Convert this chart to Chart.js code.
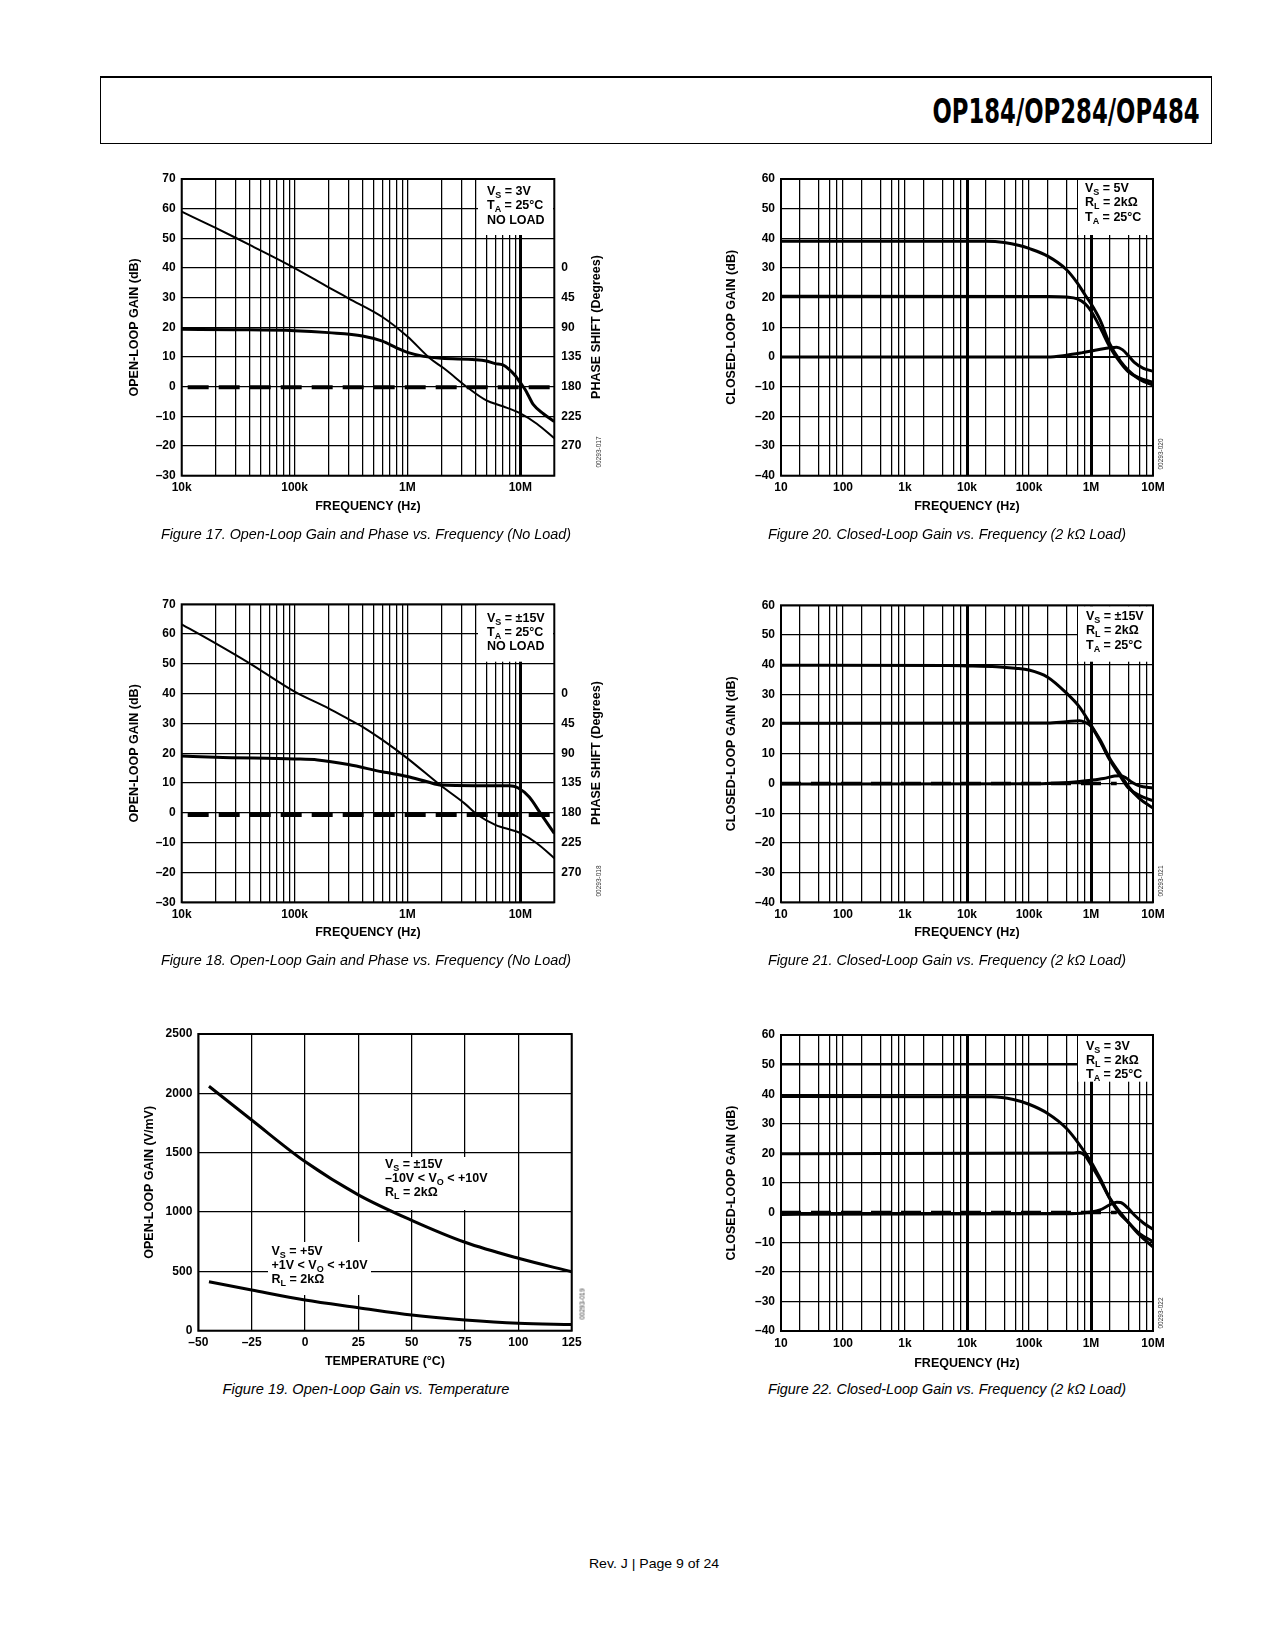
<!DOCTYPE html>
<html><head><meta charset="utf-8">
<script src="https://cdn.jsdelivr.net/npm/chart.js@4.4.1/dist/chart.umd.min.js"></script>
<style>
html,body{margin:0;padding:0;background:#fff;}
body{position:relative;width:1275px;height:1650px;overflow:hidden;font-family:"Liberation Sans",Arial,Helvetica,sans-serif;color:#000;}
canvas{position:absolute;}
.hdr{position:absolute;left:100px;top:76px;width:1112px;height:68px;border:1.6px solid #000;border-top-width:2.2px;box-sizing:border-box;}
.ttl{position:absolute;font:bold 34px "Liberation Sans Narrow","DejaVu Sans Condensed","Liberation Sans",sans-serif;line-height:34px;white-space:nowrap;}
.cap{position:absolute;font:italic 14px "Liberation Sans",Arial,sans-serif;line-height:14px;white-space:nowrap;}
.foot{position:absolute;font:13px "Liberation Sans",Arial,sans-serif;line-height:13px;white-space:nowrap;}
.ann{position:absolute;font:bold 12.5px "Liberation Sans",Arial,sans-serif;line-height:14.4px;white-space:nowrap;}
.ann sub{font-size:9px;vertical-align:-3px;line-height:0;}
.axt{position:absolute;font:bold 12.5px "Liberation Sans",Arial,sans-serif;line-height:12.5px;white-space:nowrap;}
.code{position:absolute;font:6.5px "Liberation Sans",Arial,sans-serif;line-height:7px;color:#333;white-space:nowrap;}
</style>
</head><body>
<div class="hdr"></div>
<script>
// ---------------- DATA ----------------
// Figure 17 (Vs = 3V, no load)
const fig17GainFreq = [1e4, 2e4, 3e4, 4e4, 1e5, 2e5, 3e5, 6e5, 1e6, 1.6e6, 2.1e6, 3.5e6, 5e6, 7e6, 1e7, 1.4e7, 2e7];
const fig17Gain     = [59, 53.5, 50.2, 47.8, 40, 33.5, 29.8, 23.5, 16.9, 9.4, 6.2, -0.6, -4.6, -6.6, -9, -12.5, -17.4];
const fig17PhaseFreq = [1e4, 3e4, 1e5, 2e5, 4e5, 6e5, 8e5, 1e6, 1.4e6, 2e6, 4e6, 5e6, 6e6, 7e6, 8e6, 9e6, 1e7, 1.1e7, 1.2e7, 1.3e7, 1.6e7, 2e7];
const fig17Phase     = [93, 93.5, 95, 98, 103, 111, 121, 128, 134, 137, 139, 141, 145, 147, 154, 163, 174, 184, 196, 207, 221, 233];
const fig17RefFreq = [1.13e4, 1.84e7];
const fig17RefPhase = [181, 181];
// Figure 18 (Vs = ±15V, no load)
const fig18GainFreq = [1e4, 2e4, 4e4, 1e5, 2e5, 3e5, 4e5, 6e5, 1e6, 2e6, 3.2e6, 4.2e6, 6e6, 1e7, 1.4e7, 2e7];
const fig18Gain     = [63.3, 56.9, 50.2, 40.7, 35.1, 31.5, 28.9, 24.5, 18.3, 9, 3.2, -0.7, -4, -6.8, -10.2, -15.2];
const fig18PhaseFreq = [1e4, 2e4, 1e5, 1.6e5, 3e5, 6e5, 1e6, 1.5e6, 2e6, 4e6, 8e6, 9.5e6, 1.2e7, 1.5e7, 2e7];
const fig18Phase     = [94, 96, 98.5, 100, 107, 118, 125, 133, 138, 139, 139, 142, 156, 180, 211];
const fig18RefFreq = [1.13e4, 1.84e7];
const fig18RefPhase = [183, 183];
// Figure 19 (open-loop gain vs temperature)
const fig19Temp  = [-45, -25, 0, 25, 50, 75, 100, 125];
const fig19Vs15  = [2060, 1775, 1425, 1145, 930, 745, 610, 497];
const fig19Vs5   = [413, 343, 258, 194, 132, 90, 62, 53];
// Figure 20 (Vs = 5V)
const fig20Freq100 = [10, 2e4, 4e4, 7e4, 1e5, 2e5, 4e5, 6e5, 8e5, 1e6, 1.4e6, 2e6, 3e6, 4e6, 6e6, 1e7];
const fig20Gain100 = [39, 39, 38.6, 37.6, 36.6, 34, 29.5, 25, 21, 18, 12.5, 4.5, -1.5, -4.5, -7.5, -9.5];
const fig20Freq10  = [10, 2e5, 4e5, 6e5, 8e5, 1e6, 1.4e6, 2e6, 3e6, 4e6, 6e6, 1e7];
const fig20Gain10  = [20.5, 20.4, 20.2, 19.6, 18, 15.5, 10, 3.5, -2, -5, -7, -8.5];
const fig20Freq1   = [10, 2e5, 4e5, 7e5, 1e6, 1.5e6, 2e6, 2.6e6, 3.2e6, 4e6, 5e6, 7e6, 1e7];
const fig20Gain1   = [0, 0, 0.6, 1.4, 2, 2.7, 3.1, 3.3, 2.5, 0.5, -1.8, -3.8, -4.8];
const fig20RefFreq = [10, 3e6];
const fig20RefGain = [0, 0];
// Figure 21 (Vs = ±15V)
const fig21Freq100 = [10, 5e3, 1e4, 3e4, 6e4, 1e5, 2e5, 4e5, 6.5e5, 1e6, 1.4e6, 2e6, 3e6, 4e6, 6e6, 1e7];
const fig21Gain100 = [39.8, 39.7, 39.6, 39.3, 38.8, 38.2, 35.8, 30.5, 25.8, 19.7, 14.7, 8.5, 3, -1, -5, -8.3];
const fig21Freq10  = [10, 2e5, 4e5, 6.5e5, 8e5, 1e6, 1.4e6, 2e6, 3e6, 4e6, 6e6, 1e7];
const fig21Gain10  = [20.3, 20.4, 20.8, 21.1, 20.6, 19.3, 14.2, 8, 2.3, -1.5, -4, -5.8];
const fig21Freq1   = [10, 1e5, 3e5, 6e5, 1e6, 1.6e6, 2.4e6, 3e6, 3.6e6, 4.5e6, 6e6, 1e7];
const fig21Gain1   = [-0.2, -0.1, 0.2, 0.6, 1.1, 1.7, 2.5, 2.6, 2, 0.5, -0.8, -1.5];
const fig21RefFreq = [10, 2.6e6];
const fig21RefGain = [0, 0];
// Figure 22 (Vs = 3V)
const fig22Freq100 = [10, 2.5e4, 5.6e4, 1e5, 2e5, 4e5, 6.5e5, 1e6, 1.4e6, 2e6, 2.9e6, 4e6, 6e6, 1e7];
const fig22Gain100 = [39.2, 39.1, 38.2, 36.6, 33.5, 28.5, 23, 17.2, 11.6, 5, 0.3, -3.3, -7.5, -11.6];
const fig22Freq10  = [10, 5e5, 6.3e5, 8e5, 1e6, 1.4e6, 2e6, 2.9e6, 4e6, 6e6, 1e7];
const fig22Gain10  = [19.9, 20.1, 20.4, 19.3, 16.1, 11, 4.8, -0.3, -3.3, -7, -9.8];
const fig22Freq1   = [10, 5e5, 1e6, 1.4e6, 2e6, 2.6e6, 3e6, 4e6, 5e6, 7e6, 1e7];
const fig22Gain1   = [-0.6, -0.4, 0.2, 0.9, 2.6, 3.5, 3.4, 1.4, -0.8, -3.5, -5.6];
const fig22RefFreq = [10, 2.6e6];
const fig22RefGain = [0, 0];

// ---------------- TICKS ----------------
const olFreqTicks = [1e4,2e4,3e4,4e4,5e4,6e4,7e4,8e4,9e4,1e5,2e5,3e5,4e5,5e5,6e5,7e5,8e5,9e5,1e6,2e6,3e6,4e6,5e6,6e6,7e6,8e6,9e6,1e7];
const olFreqLabels = {10000:'10k',100000:'100k',1000000:'1M',10000000:'10M'};
const clFreqTicks = [10,20,40,60,80,100,200,400,600,800,1e3,2e3,4e3,6e3,8e3,1e4,2e4,4e4,6e4,8e4,1e5,2e5,4e5,6e5,8e5,1e6,2e6,4e6,6e6,8e6,1e7];
const clFreqLabels = {10:'10',100:'100',1000:'1k',10000:'10k',100000:'100k',1000000:'1M',10000000:'10M'};
const olGainTicks = [-30,-20,-10,0,10,20,30,40,50,60,70];
const phaseTicks = [0,45,90,135,180,225,270];
const clGainTicks = [-40,-30,-20,-10,0,10,20,30,40,50,60];
const tempTicks = [-50,-25,0,25,50,75,100,125];
const aolTicks = [0,500,1000,1500,2000,2500];

// ---------------- HELPERS ----------------
const FF = '"Liberation Sans", Arial, Helvetica, sans-serif';
const TF = {family: FF, size: 12, weight: 'bold', lineHeight: 1.2};
const HF = {family: FF, size: 12.5, weight: 'bold', lineHeight: 1.2};
const dash = v => (v < 0 ? '\u2013' + Math.abs(v) : String(v));
const pts = (xs, ys) => xs.map((x, i) => ({x: x, y: ys[i]}));
function ds(data, w, extra) {
  return Object.assign({data: data, borderColor: '#000', backgroundColor: '#000', borderWidth: w,
    pointRadius: 0, pointHoverRadius: 0, fill: false, cubicInterpolationMode: 'monotone', yAxisID: 'y',
    borderCapStyle: 'butt'}, extra || {});
}
function logX(min, max, ticks, labels, thick, h, pb) {
  return {type: 'logarithmic', position: 'bottom', min: min, max: max,
    afterBuildTicks: s => { s.ticks = ticks.map(v => ({value: v})); },
    afterFit: s => { s.height = h; },
    ticks: {autoSkip: false, maxRotation: 0, minRotation: 0, padding: 5, color: '#000', font: TF,
      callback: v => (labels[v] !== undefined ? labels[v] : '')},
    grid: {color: '#000', drawTicks: false, lineWidth: c => (c.tick && thick.includes(c.tick.value)) ? 3 : 1.25},
    border: {display: false},
    title: {display: true, text: 'FREQUENCY (Hz)', color: '#000', font: HF, padding: {top: 0, bottom: pb}}};
}
function linY(min, max, ticks, w, text, tp, thick) {
  return {type: 'linear', position: 'left', min: min, max: max,
    afterBuildTicks: s => { s.ticks = ticks.map(v => ({value: v})); },
    afterFit: s => { s.width = w; },
    ticks: {autoSkip: false, padding: 6, color: '#000', font: TF, callback: v => dash(v)},
    grid: {color: '#000', drawTicks: false, lineWidth: c => (c.tick && (thick || []).includes(c.tick.value)) ? 2.6 : 1.25},
    border: {display: false},
    title: {display: true, text: text, color: '#000', font: HF, padding: {top: tp, bottom: 0}}};
}
function phaseY(w) {
  return {type: 'linear', position: 'right', min: -135, max: 315, reverse: true,
    afterBuildTicks: s => { s.ticks = phaseTicks.map(v => ({value: v})); },
    afterFit: s => { s.width = w; },
    ticks: {autoSkip: false, padding: 7, color: '#000', font: TF, callback: v => String(v)},
    grid: {display: false, drawTicks: false}, border: {display: false}};
}
function framePlugin(pos, boxes) {
  return {id: 'frame' + pos.x + '_' + pos.y,
    beforeDatasetsDraw(chart) {
      const ctx = chart.ctx; ctx.save(); ctx.fillStyle = '#fff';
      boxes.forEach(b => ctx.fillRect(b[0] - pos.x, b[1] - pos.y, b[2] - b[0], b[3] - b[1]));
      ctx.restore();
    },
    afterDatasetsDraw(chart) {
      const a = chart.chartArea, ctx = chart.ctx; ctx.save();
      ctx.strokeStyle = '#000'; ctx.lineWidth = 2;
      ctx.strokeRect(a.left, a.top, a.right - a.left, a.bottom - a.top); ctx.restore();
    }};
}
function mk(pos, padTop, padRight, scales, datasets, boxes) {
  const c = document.createElement('canvas');
  c.width = pos.w; c.height = pos.h;
  c.style.left = pos.x + 'px'; c.style.top = pos.y + 'px';
  c.style.width = pos.w + 'px'; c.style.height = pos.h + 'px';
  document.body.appendChild(c);
  return new Chart(c, {type: 'line', data: {datasets: datasets},
    options: {responsive: false, animation: false, events: [],
      layout: {padding: {top: padTop, right: padRight, left: 0, bottom: 0}},
      plugins: {legend: {display: false}, tooltip: {enabled: false}},
      scales: scales},
    plugins: [framePlugin(pos, boxes)]});
}
function centered(html, cls, cx, cy, w, rot) {
  const d = document.createElement('div'); d.className = cls; d.innerHTML = html;
  d.style.left = cx + 'px'; d.style.top = cy + 'px'; document.body.appendChild(d);
  const s = w ? w / d.offsetWidth : 1;
  d.style.transform = 'translate(-50%,-50%)' + (rot ? ' rotate(-90deg)' : '') + ' scaleX(' + s + ')';
  return d;
}
function ann(html, x, y) {
  const d = document.createElement('div'); d.className = 'ann'; d.innerHTML = html;
  d.style.left = x + 'px'; d.style.top = y + 'px'; document.body.appendChild(d);
}

// ---------------- FIGURE 17 ----------------
mk({x: 100, y: 160, w: 520, h: 370}, 19, 0, {
  x: logX(1e4, 2e7, olFreqTicks, olFreqLabels, [1e7], 54.3, 15.8),
  y: linY(-30, 70, olGainTicks, 81.7, 'OPEN-LOOP GAIN (dB)', 27.5),
  y2: phaseY(65.7)
}, [
  ds(pts(fig17RefFreq, fig17RefPhase), 4, {yAxisID: 'y2', borderDash: [21, 10], cubicInterpolationMode: 'default', tension: 0}),
  ds(pts(fig17GainFreq, fig17Gain), 2),
  ds(pts(fig17PhaseFreq, fig17Phase), 3, {yAxisID: 'y2'})
], [[478, 180, 553, 235]]);

// ---------------- FIGURE 18 ----------------
mk({x: 100, y: 585, w: 520, h: 370}, 19.3, 0, {
  x: logX(1e4, 2e7, olFreqTicks, olFreqLabels, [1e7], 52.7, 14.5),
  y: linY(-30, 70, olGainTicks, 81.7, 'OPEN-LOOP GAIN (dB)', 27.5),
  y2: phaseY(65.7)
}, [
  ds(pts(fig18RefFreq, fig18RefPhase), 4, {yAxisID: 'y2', borderDash: [21, 10], cubicInterpolationMode: 'default', tension: 0}),
  ds(pts(fig18GainFreq, fig18Gain), 2),
  ds(pts(fig18PhaseFreq, fig18Phase), 3, {yAxisID: 'y2'})
], [[478, 605, 553, 661.7]]);

// ---------------- FIGURE 19 ----------------
mk({x: 115, y: 1015, w: 480, h: 365}, 19, 23.3, {
  x: {type: 'linear', position: 'bottom', min: -50, max: 125,
    afterBuildTicks: s => { s.ticks = tempTicks.map(v => ({value: v})); },
    afterFit: s => { s.height = 49.3; },
    ticks: {autoSkip: false, maxRotation: 0, padding: 5, color: '#000', font: TF, callback: v => dash(v)},
    grid: {color: '#000', drawTicks: false, lineWidth: 1.25}, border: {display: false},
    title: {display: true, text: 'TEMPERATURE (\u00B0C)', color: '#000', font: HF, padding: {top: 0, bottom: 11.2}}},
  y: linY(0, 2500, aolTicks, 83.3, 'OPEN-LOOP GAIN (V/mV)', 27.5)
}, [
  ds(pts(fig19Temp, fig19Vs15), 3),
  ds(pts(fig19Temp, fig19Vs5), 3)
], [[383, 1157, 488, 1210], [268, 1242, 371, 1295]]);

// ---------------- FIGURES 20-22 ----------------
function clChart(top, h, padTop, xh, xpb, d100, d10, d1, ref, refDash, thickY, boxBottom) {
  const sets = [];
  if (ref) sets.push(ds(ref, refDash ? 3.5 : 2.2, refDash ? {borderDash: [20, 10], cubicInterpolationMode: 'default', tension: 0} : {cubicInterpolationMode: 'default', tension: 0}));
  sets.push(ds(d1, 3), ds(d10, 3), ds(d100, 3));
  mk({x: 690, y: top, w: 490, h: h}, padTop, 27, {
    x: logX(10, 1e7, clFreqTicks, clFreqLabels, [1e4, 1e6], xh, xpb),
    y: linY(-40, 60, clGainTicks, 91, 'CLOSED-LOOP GAIN (dB)', 34.2, thickY)
  }, sets, [[1078, top + padTop + 1, 1152, boxBottom]]);
}
clChart(160, 370, 19, 54.3, 15.5, pts(fig20Freq100, fig20Gain100), pts(fig20Freq10, fig20Gain10), pts(fig20Freq1, fig20Gain1), pts(fig20RefFreq, fig20RefGain), false, [], 235);
clChart(585, 370, 20.3, 52.7, 14.5, pts(fig21Freq100, fig21Gain100), pts(fig21Freq10, fig21Gain10), pts(fig21Freq1, fig21Gain1), pts(fig21RefFreq, fig21RefGain), true, [], 661.7);
clChart(1015, 365, 20, 49, 9.1, pts(fig22Freq100, fig22Gain100), pts(fig22Freq10, fig22Gain10), pts(fig22Freq1, fig22Gain1), pts(fig22RefFreq, fig22RefGain), true, [50], 1081.7);

// ---------------- TEXT ----------------
centered('OP184/OP284/OP484', 'ttl', 1065.5, 111.2, 267);
ann('V<sub>S</sub> = 3V<br>T<sub>A</sub> = 25\u00B0C<br>NO LOAD', 487, 184);
ann('V<sub>S</sub> = \u00B115V<br>T<sub>A</sub> = 25\u00B0C<br>NO LOAD', 487, 610.5);
ann('V<sub>S</sub> = 5V<br>R<sub>L</sub> = 2k\u03A9<br>T<sub>A</sub> = 25\u00B0C', 1085, 181);
ann('V<sub>S</sub> = \u00B115V<br>R<sub>L</sub> = 2k\u03A9<br>T<sub>A</sub> = 25\u00B0C', 1086, 609);
ann('V<sub>S</sub> = 3V<br>R<sub>L</sub> = 2k\u03A9<br>T<sub>A</sub> = 25\u00B0C', 1086, 1038.5);
ann('V<sub>S</sub> = \u00B115V<br>\u201310V &lt; V<sub>O</sub> &lt; +10V<br>R<sub>L</sub> = 2k\u03A9', 385, 1156.5);
ann('V<sub>S</sub> = +5V<br>+1V &lt; V<sub>O</sub> &lt; +10V<br>R<sub>L</sub> = 2k\u03A9', 271.5, 1243.5);
centered('PHASE SHIFT (Degrees)', 'axt', 595.5, 327, 0, true);
centered('PHASE SHIFT (Degrees)', 'axt', 595.5, 753, 0, true);
centered('00293-017', 'code', 598, 452, 0, true);
centered('00293-018', 'code', 598, 881, 0, true);
centered('00293-019', 'code', 582, 1304, 0, true);
centered('00293-020', 'code', 1160, 454, 0, true);
centered('00293-021', 'code', 1160, 881, 0, true);
centered('00293-022', 'code', 1160, 1313, 0, true);
centered('Figure 17. Open-Loop Gain and Phase vs. Frequency (No Load)', 'cap', 366, 533.5, 410);
centered('Figure 18. Open-Loop Gain and Phase vs. Frequency (No Load)', 'cap', 366, 959.5, 410);
centered('Figure 19. Open-Loop Gain vs. Temperature', 'cap', 365.6, 1389, 287);
centered('Figure 20. Closed-Loop Gain vs. Frequency (2 k\u03A9 Load)', 'cap', 947, 533.5, 358);
centered('Figure 21. Closed-Loop Gain vs. Frequency (2 k\u03A9 Load)', 'cap', 947, 959.5, 358);
centered('Figure 22. Closed-Loop Gain vs. Frequency (2 k\u03A9 Load)', 'cap', 947, 1389, 358);
centered('Rev. J | Page 9 of 24', 'foot', 654, 1563, 130);
</script>
</body></html>
